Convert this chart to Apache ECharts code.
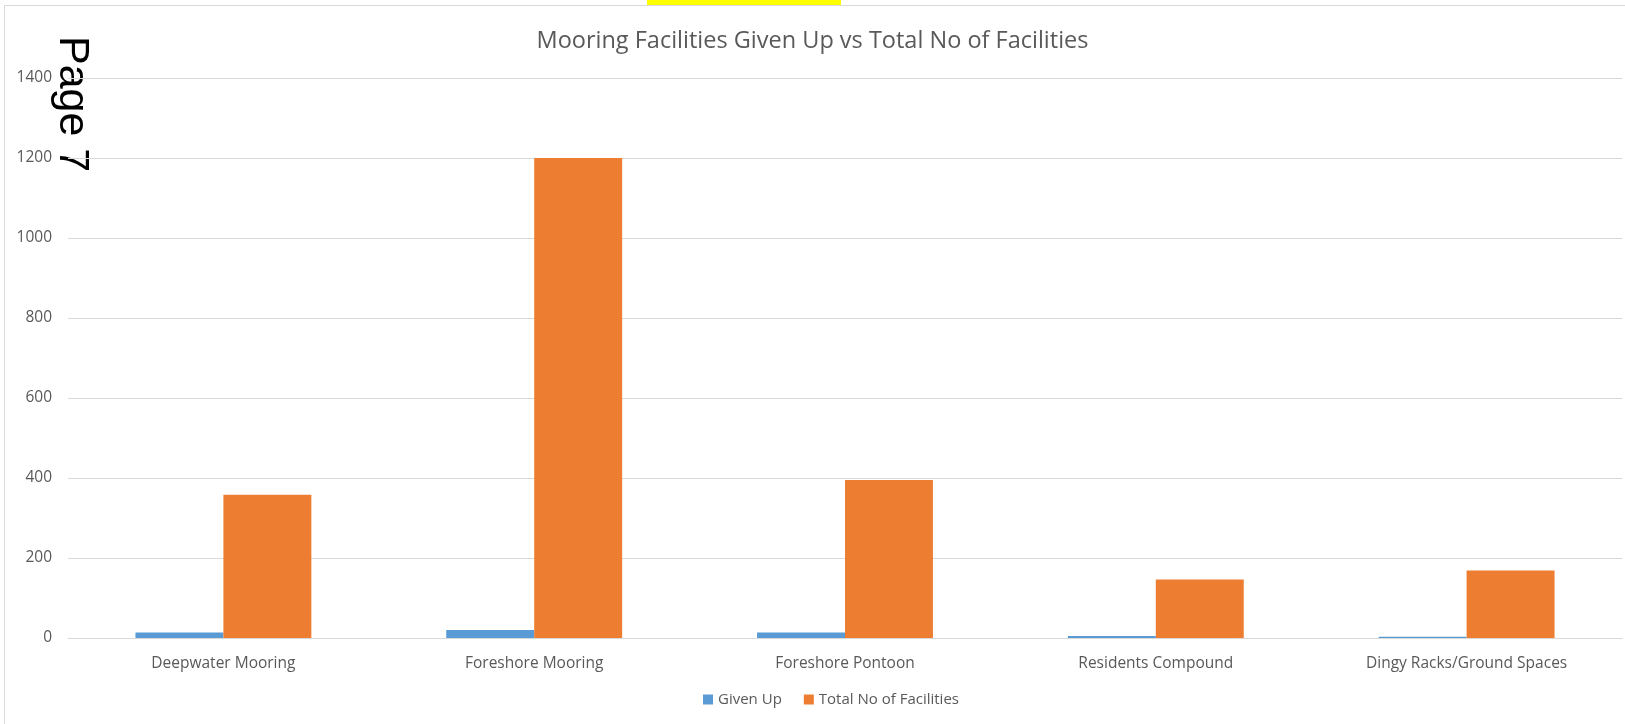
<!DOCTYPE html>
<html>
<head>
<meta charset="utf-8">
<script src="https://cdn.jsdelivr.net/npm/echarts@6/dist/echarts.min.js"></script>
<style>html,body{margin:0;padding:0;background:#fff;}#c{width:1625px;height:724px;}</style>
</head>
<body>
<div id="c"></div>
<script>
const categories = ['Deepwater Mooring', 'Foreshore Mooring', 'Foreshore Pontoon', 'Residents Compound', 'Dingy Racks/Ground Spaces'];
const givenUp = [14, 20, 14, 5, 3];
const totalFacilities = [358, 1200, 395, 146, 169];
const yTicks = { min: 0, max: 1400, interval: 200 };

const font = '"Open Sans", "Liberation Sans", sans-serif';
const chart = echarts.init(document.getElementById('c'));
chart.setOption({
  animation: false,
  backgroundColor: '#ffffff',
  title: {
    text: 'Mooring Facilities Given Up vs Total No of Facilities',
    left: 'center', top: 24,
    textStyle: { fontFamily: font, fontSize: 23.5, fontWeight: 'normal', color: '#595959' }
  },
  legend: {
    bottom: 12, left: 698,
    itemWidth: 10, itemHeight: 10, itemGap: 22,
    icon: 'rect',
    textStyle: { fontFamily: font, fontSize: 15, color: '#595959' },
    data: ['Given Up', 'Total No of Facilities']
  },
  grid: { left: 68, right: 3, top: 78, bottom: 86 },
  xAxis: {
    type: 'category', data: categories,
    axisLine: { lineStyle: { color: '#d9d9d9', width: 1 } },
    axisTick: { show: false },
    axisLabel: { fontFamily: font, fontSize: 15.5, color: '#595959', margin: 18 }
  },
  yAxis: {
    type: 'value', min: yTicks.min, max: yTicks.max, interval: yTicks.interval,
    axisLine: { show: false }, axisTick: { show: false },
    splitLine: { lineStyle: { color: '#d9d9d9', width: 1 } },
    axisLabel: { fontFamily: font, fontSize: 15.5, color: '#595959', margin: 16, formatter: v => String(v) }
  },
  series: [
    { name: 'Given Up', type: 'bar', data: givenUp, barWidth: '28.3%', barGap: '0%', itemStyle: { color: '#5b9bd5' } },
    { name: 'Total No of Facilities', type: 'bar', data: totalFacilities, barWidth: '28.3%', barGap: '0%', itemStyle: { color: '#ed7d31' } }
  ],
  graphic: [
    { type: 'rect', silent: true, z: -1, shape: { x: 4.5, y: 5.5, width: 1700, height: 800 }, style: { fill: 'none', stroke: '#d9d9d9', lineWidth: 1 } },
    { type: 'rect', silent: true, shape: { x: 647, y: 0, width: 194, height: 5 }, style: { fill: '#ffff00' } },
    { type: 'text', silent: true, x: 93, y: 36, rotation: -Math.PI / 2,
      style: { text: 'Page 7', font: '43px "Liberation Sans", Arial, sans-serif', fill: '#000000', textAlign: 'left', textVerticalAlign: 'top' } }
  ]
});
</script>
</body>
</html>
